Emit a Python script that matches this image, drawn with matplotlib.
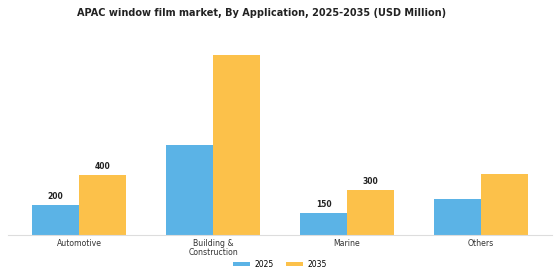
import matplotlib.pyplot as plt
import numpy as np

categories = ["Automotive", "Building &\nConstruction", "Marine", "Others"]
years = ["2025", "2035"]
values_2025 = [200, 600, 150, 240]
values_2035 = [400, 1200, 300, 405]
# only these bars carry a value label in the reference
labels_2025 = ["200", None, "150", None]
labels_2035 = ["400", None, "300", None]

blue = "#5BB3E6"
yellow = "#FCC14A"

fig = plt.figure(figsize=(5.6, 2.8), dpi=100)
ax = fig.add_axes([0.0143, 0.1607, 0.9714, 0.696])

x = np.arange(len(categories))
w = 0.35
b1 = ax.bar(x - w/2, values_2025, w, color=blue, label=years[0])
b2 = ax.bar(x + w/2, values_2035, w, color=yellow, label=years[1])

for bars, labs in ((b1, labels_2025), (b2, labels_2035)):
    for rect, lab in zip(bars, labs):
        if lab:
            ax.text(rect.get_x() + rect.get_width()/2, rect.get_height() + 25, lab,
                    ha="center", va="bottom", fontsize=5.5, fontweight="bold", color="#222222")

ax.set_xlim(-0.53, 3.53)
ax.set_ylim(0, 1300)
ax.set_xticks(x)
ax.set_xticklabels(categories, fontsize=5.6, color="#333333", linespacing=1.0)
ax.tick_params(axis="x", length=0, pad=3)
ax.set_yticks([])
for s in ("top", "right", "left"):
    ax.spines[s].set_visible(False)
ax.spines["bottom"].set_color("#dddddd")
ax.spines["bottom"].set_linewidth(0.8)

fig.suptitle("APAC window film market, By Application, 2025-2035 (USD Million)",
             fontsize=7, fontweight="bold", color="#222222", x=0.467, y=0.97)
fig.legend(loc="lower center", bbox_to_anchor=(0.5, 0.015), ncol=2, frameon=False,
           fontsize=5.5, handlelength=2.2, handleheight=0.5, handletextpad=0.6,
           columnspacing=1.6)

fig.savefig("out.png", dpi=100)
